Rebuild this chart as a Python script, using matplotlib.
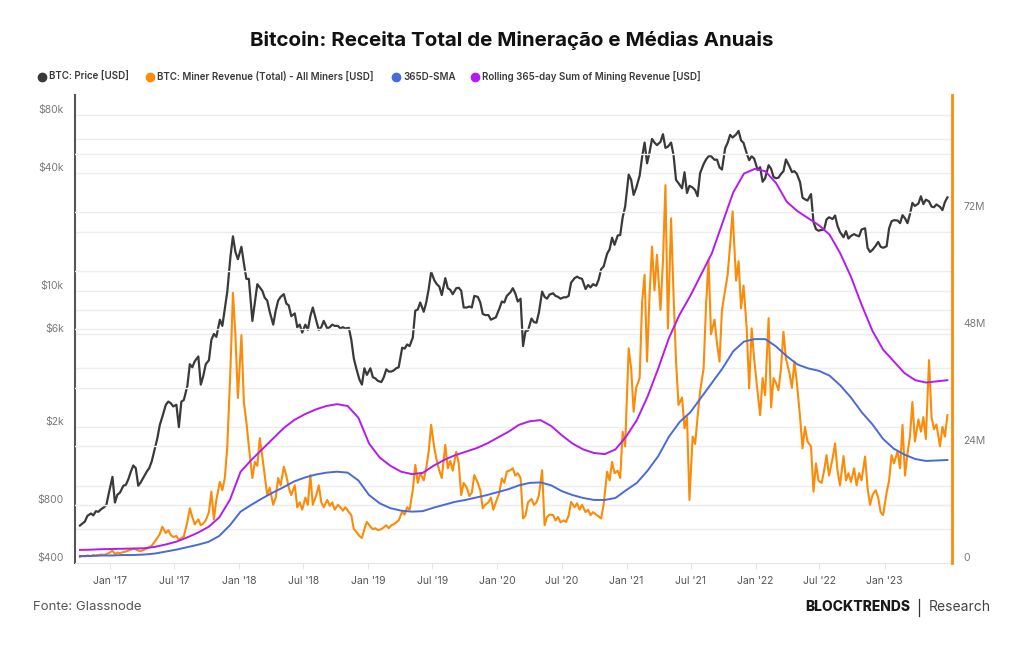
import numpy as np
import pandas as pd
import matplotlib
matplotlib.use("Agg")
import matplotlib.pyplot as plt
import matplotlib.dates as mdates
from matplotlib.lines import Line2D

plt.rcParams['font.family'] = ['Inter', 'DejaVu Sans']

# ---------- dados ----------
# 4 pontos por mês (dias 7, 14, 21, 28), out/2016 -> jun/2023
meses = pd.period_range("2016-10", "2023-06", freq="M")
dias = [7, 14, 21, 28]
datas = [pd.Timestamp(year=p.year, month=p.month, day=d) for p in meses for d in dias]

preco = [  # BTC: Price [USD]
    625, 640, 655, 700,   720, 705, 740, 735,   760, 775, 800, 920,
    1110, 820, 900, 920,   1000, 1010, 1080, 1180,   1270, 1230, 1000, 1040,
    1120, 1180, 1230, 1330,   1550, 1750, 2050, 2250,   2600, 2700, 2650, 2550,
    2600, 2000, 2700, 2750,   3250, 4200, 4050, 4350,   4600, 3300, 3650, 4200,
    4400, 5600, 6000, 5800,   7100, 6600, 8100, 9900,   15000, 19000, 15800, 14500,
    16800, 13800, 11500, 11500,   7000, 8700, 10800, 10400,   10000, 9200, 8900, 7800,
    6700, 7900, 8900, 9300,   9600, 8600, 8400, 7400,   7650, 6500, 6700, 6100,
    6700, 6300, 7400, 8200,   7000, 6300, 6500, 7000,   6400, 6500, 6700, 6600,
    6600, 6400, 6500, 6400,   6450, 5600, 4500, 4000,   3500, 3300, 4000, 3700,
    4000, 3600, 3550, 3450,   3400, 3600, 3950, 3850,   3850, 3900, 4000, 4050,
    5100, 5050, 5300, 5200,   5750, 7900, 8000, 8700,   7800, 8700, 10200, 12500,
    11300, 10800, 10500, 9500,   11600, 10300, 10100, 9600,   10300, 10350, 10000, 8200,
    8200, 8300, 8200, 9400,   9300, 8700, 7600, 7500,   7500, 7100, 7200, 7300,
    8100, 8800, 8700, 9400,   9800, 10300, 9700, 8800,   9100, 5200, 6200, 6250,
    7200, 6900, 6850, 7750,   9900, 9300, 9100, 9550,   9700, 9400, 9300, 9100,
    9250, 9250, 9400, 11000,   11600, 11800, 11600, 11500,   10200, 10700, 10400, 10800,
    10600, 11400, 12900, 13300,   15500, 16300, 18700, 17200,   19200, 19300, 23800, 27000,
    39400, 37000, 31000, 33500,   38900, 48600, 57500, 45000,   51200, 60000, 57500, 55800,
    58000, 63500, 54000, 54800,   57500, 49500, 37000, 35600,   33500, 40500, 31700, 34500,
    33800, 32800, 30500, 40000,   44600, 47100, 48900, 49000,   46900, 47000, 42900, 41800,
    53800, 57300, 63000, 61000,   63300, 66000, 59000, 57300,   50600, 46700, 48900, 47600,
    41600, 43000, 36200, 37700,   44000, 42200, 38300, 37700,   38000, 39700, 41000, 47100,
    43400, 40600, 41000, 39700,   36000, 30000, 29400, 29000,   31300, 22500, 20700, 20300,
    20500, 20600, 23200, 23800,   23300, 24300, 21500, 20000,   18800, 20200, 18500, 19100,
    19500, 19200, 19000, 20600,   20900, 16600, 15800, 16200,   17000, 17800, 16800, 16600,
    16900, 20900, 22700, 23000,   22900, 22200, 24400, 23500,   22200, 24700, 28200, 27200,
    28000, 30500, 27800, 29300,   28700, 27000, 26800, 27700,   26900, 25900, 28500, 30100,
]

receita = [  # BTC: Miner Revenue (Total) - All Miners [USD], em milhões
    1.3, 1.5, 1.4, 1.6,   1.5, 1.7, 1.6, 1.7,   1.8, 1.7, 1.9, 2.1,
    2.6, 1.9, 2.2, 2.1,   2.3, 2.4, 2.6, 2.8,   3.0, 2.9, 2.6, 2.5,
    2.8, 3.0, 3.3, 3.6,   4.5, 5.2, 6.0, 7.5,   6.2, 6.8, 5.8, 5.4,
    5.6, 4.8, 5.2, 5.5,   8.5, 11.3, 9.5, 8.0,   9.0, 7.8, 8.2, 8.8,
    10.5, 14.7, 9.0, 13.0,   16.7, 15.0, 17.5, 24.0,   40.0, 55.5, 46.8, 33.9,
    46.8, 33.0, 29.0, 24.0,   17.5, 20.8, 20.0, 25.7,   22.0, 18.0, 14.0, 15.5,
    12.0, 13.5, 17.5, 16.0,   19.8, 18.0, 15.5, 14.0,   16.0, 11.5, 12.5, 11.0,
    13.5, 12.0, 18.1, 12.0,   14.0, 16.0, 12.5, 11.5,   13.0, 11.8, 12.5, 11.0,
    12.0, 11.5, 10.8, 11.5,   10.5, 9.9, 7.0, 6.5,   5.6, 5.2, 7.0, 8.5,
    7.5, 7.0, 7.2, 6.8,   7.0, 7.4, 7.8, 7.2,   7.8, 8.0, 8.4, 8.8,
    10.6, 10.0, 11.5, 11.0,   15.0, 20.2, 16.5, 18.5,   17.0, 19.5, 23.0, 28.4,
    23.6, 21.0, 19.0, 17.5,   24.3, 19.5, 21.0, 19.0,   22.9, 20.5, 14.0, 16.5,
    15.5, 13.8, 14.5, 18.1,   16.5, 15.0, 11.3, 12.0,   12.5, 13.5, 11.0, 12.5,
    14.5, 17.4, 16.5, 18.8,   19.1, 19.5, 18.0, 18.5,   17.5, 9.2, 9.8, 12.5,
    13.2, 12.0, 12.5, 14.0,   19.1, 7.8, 9.5, 10.0,   9.9, 8.8, 9.5, 8.4,
    8.8, 8.5, 9.8, 12.6,   11.5, 12.3, 11.0, 12.0,   10.5, 11.0, 9.9, 10.5,
    10.0, 9.6, 9.2, 12.0,   18.8, 17.0, 20.8, 18.5,   19.0, 17.5, 27.0, 24.0,
    44.1, 40.0, 31.1, 36.0,   38.0, 53.7, 59.2, 41.4,   55.0, 65.0, 56.0, 63.3,
    52.0, 62.0, 77.6, 48.2,   70.8, 55.0, 41.4, 32.5,   34.0, 27.7, 30.0, 13.0,
    26.0, 24.5, 30.0, 35.2,   40.0, 53.0, 62.2, 47.0,   50.0, 45.0, 41.4, 52.0,
    56.0, 59.2, 65.3, 72.2,   58.0, 62.0, 52.3, 57.0,   48.2, 35.9, 48.2, 42.0,
    35.0, 30.4, 38.0, 34.5,   50.3, 32.0, 38.0, 37.0,   35.5, 40.0, 47.5, 42.0,
    39.0, 36.0, 41.4, 37.0,   30.0, 23.6, 28.0, 25.0,   24.0, 14.7, 20.5, 17.0,
    16.5, 19.0, 22.2, 18.0,   21.5, 24.6, 19.0, 16.0,   22.0, 17.0, 18.5, 16.7,
    19.5, 16.0, 18.5, 17.0,   21.9, 15.5, 12.0, 14.0,   15.0, 13.5, 10.5, 9.9,
    14.5, 17.0, 22.2, 20.5,   23.0, 19.5, 28.4, 18.0,   22.5, 26.0, 33.1, 25.0,
    29.5, 27.0, 30.0, 25.5,   41.7, 30.0, 27.5, 28.5,   24.0, 28.0, 26.0, 30.4,
]

# médias: um ponto por mês (+ ponto final)
media_365 = [  # 365D-SMA, em milhões
    1.5, 1.5, 1.6, 1.6, 1.7, 1.7, 1.8, 2.0, 2.4, 2.8, 3.3, 3.8,
    4.4, 5.6, 7.8, 10.6, 12.0, 13.3, 14.5, 15.6, 16.8, 17.6, 18.2, 18.6,
    18.8, 18.6, 17.0, 14.0, 12.3, 11.3, 10.8, 10.6, 10.7, 11.4, 12.0, 12.6,
    13.0, 13.5, 14.0, 14.6, 15.2, 16.0, 16.5, 16.6, 16.0, 14.8, 14.0, 13.4,
    13.0, 13.0, 13.4, 15.0, 16.5, 19.0, 22.0, 26.0, 29.0, 31.0, 34.0, 37.0,
    40.0, 43.5, 45.5, 46.0, 46.0, 44.5, 42.5, 40.8, 40.0, 39.5, 38.5, 36.5,
    34.0, 31.0, 28.5, 25.5, 23.5, 22.3, 21.4, 21.0, 21.1, 21.2,
]
soma_365 = [  # Rolling 365-day Sum of Mining Revenue, em bilhões
    0.57, 0.58, 0.60, 0.61, 0.62, 0.63, 0.64, 0.70, 0.80, 0.92, 1.10, 1.30,
    1.55, 1.95, 2.7, 3.9, 4.4, 4.85, 5.3, 5.75, 6.1, 6.35, 6.55, 6.7,
    6.78, 6.7, 6.2, 5.1, 4.5, 4.15, 3.9, 3.8, 3.85, 4.15, 4.4, 4.6,
    4.75, 4.9, 5.1, 5.35, 5.6, 5.9, 6.05, 6.1, 5.85, 5.45, 5.1, 4.85,
    4.7, 4.65, 4.85, 5.4, 6.1, 7.1, 8.3, 9.6, 10.6, 11.4, 12.3, 13.2,
    14.5, 15.8, 16.6, 16.8, 16.7, 16.2, 15.4, 15.0, 14.7, 14.4, 14.0, 13.2,
    12.2, 11.0, 9.9, 9.1, 8.6, 8.1, 7.8, 7.7, 7.75, 7.8,
]
datas_media = pd.date_range("2016-10-07", "2023-06-28", periods=len(media_365))

ticks_x = pd.date_range("2017-01-01", "2023-01-01", freq="6MS")
ticks_esq = [400, 800, 2000, 6000, 10000, 40000, 80000]
rotulos_esq = ["$400", "$800", "$2k", "$6k", "$10k", "$40k", "$80k"]
grade_esq = [600, 800, 1000, 2000, 4000, 6000, 8000, 10000, 20000, 40000, 60000, 80000]
ticks_dir = [0, 24, 48, 72]
rotulos_dir = ["0", "24M", "48M", "72M"]
grade_dir = [12, 24, 36, 48, 60, 72, 84]

c_preco = "#3a3a3a"
c_receita = "#fb8c0a"
c_media = "#4a6ad8"
c_soma = "#b21cf2"

# ---------- figura ----------
fig = plt.figure(figsize=(10.24, 6.45), dpi=100)
ax = fig.add_axes([75/1024, 1-563.3/645, 877/1024, 468.8/645])
ax2 = ax.twinx()
ax3 = ax.twinx()

for g in grade_esq:
    ax.axhline(g, color="#ededed", lw=1, zorder=0)
for g in grade_dir:
    ax2.axhline(g, color="#ededed", lw=1, zorder=0)

ax.plot(datas, preco, color=c_preco, lw=1.6, zorder=3)
ax2.plot(datas, receita, color=c_receita, lw=1.5, zorder=2)
ax2.plot(datas_media, media_365, color=c_media, lw=1.4, zorder=3)
ax3.plot(datas_media, soma_365, color=c_soma, lw=1.4, zorder=3)

ax.set_yscale("log")
ax.set_ylim(400, 400*10**(468.8/195))
ax2.set_ylim(0, 96.2)
ax3.set_ylim(0, 19.97)
ax.set_xlim(pd.Timestamp("2016-09-23"), pd.Timestamp("2023-07-11"))

ax.set_yticks(ticks_esq)
ax.set_yticklabels(rotulos_esq)
ax.yaxis.set_minor_locator(matplotlib.ticker.NullLocator())
ax.tick_params(axis="y", length=0, pad=8, labelsize=7.5, labelcolor="#7a7a7a")
for t in ax.get_yticklabels():
    t.set_va("bottom")

ax2.set_yticks(ticks_dir)
ax2.set_yticklabels(rotulos_dir)
ax2.tick_params(axis="y", length=0, pad=8, labelsize=7.5, labelcolor="#7a7a7a")
for t in ax2.get_yticklabels():
    t.set_va("bottom")

ax.set_xticks(ticks_x)
ax.xaxis.set_major_formatter(mdates.DateFormatter("%b '%y"))
ax.tick_params(axis="x", length=4, color="#e6e6e6", pad=5, labelsize=7.5, labelcolor="#555555")

ax3.set_yticks([])
for s in ax3.spines.values():
    s.set_visible(False)
for a in (ax, ax2):
    a.spines["top"].set_visible(False)
ax.spines["right"].set_visible(False)
ax2.spines["left"].set_visible(False)
ax2.spines["bottom"].set_visible(False)
ax.spines["bottom"].set_color("#e6e6e6")
ax.spines["left"].set_color("#555555")
ax.spines["left"].set_linewidth(1.5)
ax2.spines["right"].set_color(c_receita)
ax2.spines["right"].set_linewidth(2)

# ---------- textos ----------
fig.text(0.5, 1-40/645, "Bitcoin: Receita Total de Mineração e Médias Anuais",
         ha="center", va="center", fontsize=14.8, fontweight="bold", color="#111111")

legenda = [
    (42, "BTC: Price [USD]", c_preco),
    (150, "BTC: Miner Revenue (Total) - All Miners [USD]", c_receita),
    (396, "365D-SMA", c_media),
    (475, "Rolling 365-day Sum of Mining Revenue [USD]", c_soma),
]
yl = 1-77/645
for x, txt, cor in legenda:
    fig.add_artist(Line2D([x/1024], [yl], marker="o", ms=6, color=cor, transform=fig.transFigure))
    fig.text((x+7)/1024, yl, txt, ha="left", va="center", fontsize=7,
             fontweight="semibold", color="#3a3a3a")

fig.text(33/1024, 1-607/645, "Fonte: Glassnode", ha="left", va="center", fontsize=9.5, color="#555555")
fig.text(910/1024, 1-607/645, "BLOCKTRENDS", ha="right", va="center", fontsize=10,
         fontweight="heavy", color="#1a1a1a")
fig.add_artist(Line2D([919/1024, 919/1024], [1-599/645, 1-616/645], color="#333333", lw=0.9,
                      transform=fig.transFigure))
fig.text(929/1024, 1-607/645, "Research", ha="left", va="center", fontsize=10, color="#444444")

fig.savefig("out.png", dpi=100, facecolor="white")
